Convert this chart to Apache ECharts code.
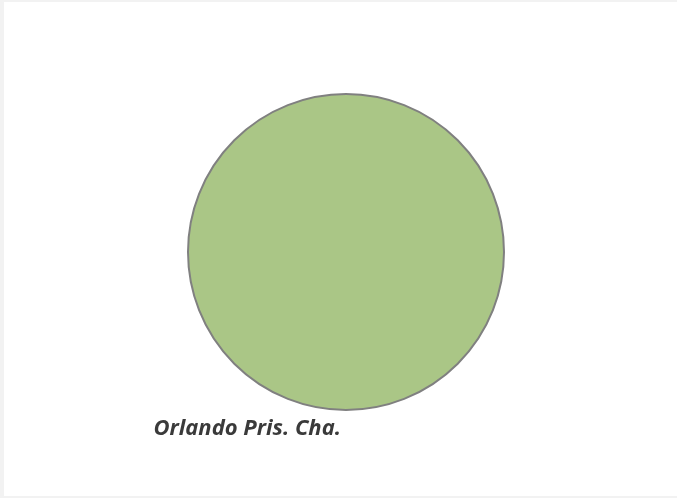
<!DOCTYPE html>
<html>
<head>
<meta charset="utf-8">
<script src="https://cdn.jsdelivr.net/npm/echarts@6/dist/echarts.min.js"></script>
<style>
html,body{margin:0;padding:0;background:#f2f2f2;width:677px;height:498px;overflow:hidden;}
#chart{position:absolute;left:4px;top:2px;width:673px;height:494px;background:#fff;}
</style>
</head>
<body>
<div id="chart"></div>
<script>
const categories = ["Orlando Pris. Cha."];
const values = [100];

const chart = echarts.init(document.getElementById('chart'));
chart.setOption({
  animation: false,
  series: [{
    type: 'pie',
    center: [342, 250],
    radius: [0, 158],
    startAngle: 90,
    data: categories.map((c, i) => ({ name: c, value: values[i] })),
    itemStyle: { color: '#aac686', borderColor: '#808080', borderWidth: 2 },
    label: {
      show: true,
      position: 'outside',
      color: '#3a3a3a',
      fontFamily: '"Open Sans"',
      fontSize: 22,
      fontWeight: 'bold',
      fontStyle: 'italic'
    },
    labelLine: { show: false, length: 19, length2: 0 },
    emphasis: { disabled: true }
  }]
});
</script>
</body>
</html>
